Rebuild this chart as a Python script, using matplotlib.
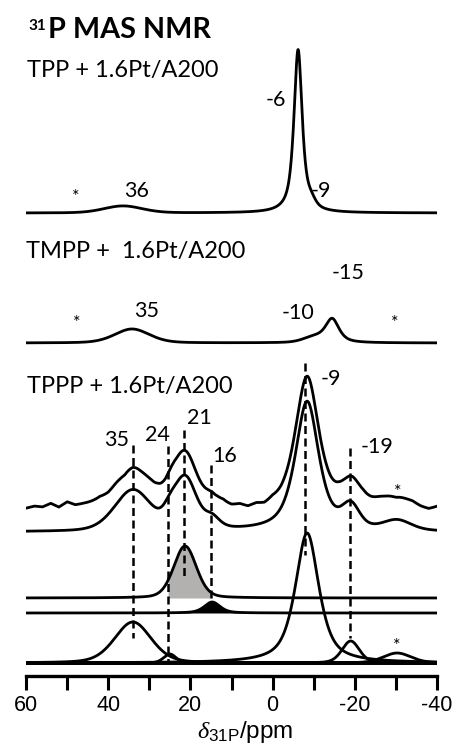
import matplotlib.pyplot as plt
import numpy as np

plt.rcParams['axes.unicode_minus'] = False
plt.rcParams['mathtext.fontset'] = 'custom'
plt.rcParams['mathtext.it'] = 'Liberation Serif:italic'
plt.rcParams['mathtext.rm'] = 'Liberation Sans'

W, H = 454, 746

# peak parameters: (centre ppm, height, fwhm ppm, lorentz fraction)
# heights are in screen pixels of the original figure
tpp_peaks = [(-6.2, 163, 2.4, 0.8), (-9.4, 6, 2.5, 0.5), (36.4, 7, 11.0, 0.2)]
tmpp_peaks = [(-14.5, 23.5, 4.0, 0.7), (-10.0, 5, 6.0, 0.3), (34.2, 14, 10.0, 0.3)]
tppp_components = [(34.0, 41, 10.5, 0.3), (25.0, 9, 3.5, 0.3), (-8.4, 130, 6.8, 0.7),
                   (-19.0, 22, 5.0, 0.3), (-30.3, 10, 8.0, 0.3)]
tppp_gray = (21.3, 52, 6.5, 0.25)
tppp_black = (14.7, 11, 4.5, 0.5)

# wiggles of the measured TPPP trace relative to the fit, every 2 ppm from 60 to -40
noise_ppm = np.arange(60, -41, -2)
noise = [-2, 0, -1, 2.5, -1.5, 3.5, 0, 0.5, 0.5, 0.5,
         -3, -3.5, -6, -3, -3, -1, 0, -2, 0, 0,
         -1, -2, -3, -4, -1, -3, -2, -5, -3, -5,
         -2, -3, -2, 0, 0, 0, -1, -1, 0, -1,
         1, 3, 2, 2, 0, -3, -2, -1, -3, -4,
         -1]

# assignment markers: ppm, top and bottom (figure pixels)
guide_ppm = [34.0, 25.45, 21.56, 15.0, -7.9, -18.8]
guide_top = [445, 446, 430, 465, 363, 448]
guide_bot = [638, 663, 578, 598, 555, 638]

major_ticks = [60, 40, 20, 0, -20, -40]
major_labels = ['60', '40', '20', '0', '-20', '-40']
minor_ticks = [50, 30, 10, -10, -30]

samples = ['TPP + 1.6Pt/A200', 'TMPP +  1.6Pt/A200', 'TPPP + 1.6Pt/A200']


def pv(x, c, h, w, eta):
    d = (x - c) / (w / 2)
    return h * (eta / (1 + d ** 2) + (1 - eta) * np.exp(-np.log(2) * d ** 2))


def spectrum(x, peaks):
    return sum(pv(x, *p) for p in peaks)


x = np.linspace(60, -40, 3000)

# baselines in pixel units above the axis line
base_tpp, base_tmpp = 463, 333
base_exp, base_sum = 169, 144
base_gray, base_black, base_comp = 78, 63, 13

fig = plt.figure(figsize=(W / 100, H / 100), dpi=100)
ax = fig.add_axes([26 / W, 70 / H, 411 / W, 676 / H])
ax.set_xlim(60, -40)
ax.set_ylim(0, 676)

lw = 2.0
ax.plot(x, base_tpp + spectrum(x, tpp_peaks), color='black', lw=lw)
ax.plot(x, base_tmpp + spectrum(x, tmpp_peaks), color='black', lw=lw)

fit = spectrum(x, tppp_components) + pv(x, *tppp_gray) + pv(x, *tppp_black)
wig = np.interp(x, noise_ppm[::-1], np.array(noise)[::-1])
ax.plot(x, base_exp + fit + wig, color='black', lw=lw)
ax.plot(x, base_sum + fit, color='black', lw=lw)

gray = pv(x, *tppp_gray)
mask = (x <= 25.45) & (x >= 15.0)
ax.fill_between(x, base_gray, base_gray + gray, where=mask, color='#b3b0b0', lw=0)
ax.plot(x, base_gray + gray, color='black', lw=lw)

black = pv(x, *tppp_black)
ax.fill_between(x, base_black, base_black + black, color='black', lw=0)
ax.plot(x, base_black + black, color='black', lw=lw)

ax.axhline(base_comp, color='black', lw=2.8)
for p in tppp_components:
    ax.plot(x, base_comp + pv(x, *p), color='black', lw=lw)

for p, t, b in zip(guide_ppm, guide_top, guide_bot):
    ax.plot([p, p], [676 - t, 676 - b], color='black', lw=1.8,
            ls=(0, (3.2, 1.8)))

for s in ['left', 'right', 'top']:
    ax.spines[s].set_visible(False)
ax.spines['bottom'].set_linewidth(2.4)
ax.set_yticks([])
ax.set_xticks(major_ticks)
ax.set_xticklabels(major_labels, family='Liberation Sans', fontsize=15.5)
ax.set_xticks(minor_ticks, minor=True)
ax.tick_params(axis='x', which='major', length=10, width=2.2, pad=4)
ax.tick_params(axis='x', which='minor', length=10, width=2.2)


def pxt(xp, yp, s, **kw):
    fig.text(xp / W, 1 - yp / H, s, va='baseline', **kw)


lab = dict(family='Lato', fontsize=15.5, ha='center')
pxt(28, 30, '31', family='Lato', fontsize=11, fontweight='bold')
pxt(48, 38, 'P MAS NMR', family='Lato', fontsize=20.7, fontweight='bold')
pxt(27, 77, samples[0], family='Lato', fontsize=17)
pxt(26, 258, samples[1], family='Lato', fontsize=17)
pxt(27, 393, samples[2], family='Lato', fontsize=17)

for s, xp, yp in [('36', 137, 197), ('-6', 276, 106), ('-9', 321, 197),
                  ('35', 147, 317), ('-10', 298, 319), ('-15', 348, 279),
                  ('35', 117, 446), ('24', 157, 441), ('21', 199, 424),
                  ('16', 225, 462), ('-9', 331, 385), ('-19', 377, 453)]:
    pxt(xp, yp, s, **lab)

for xp, yp in [(76, 193), (77, 319), (395, 319), (398, 488), (397, 642)]:
    pxt(xp, yp + 9, '*', family='Lato', fontsize=13, ha='center')

pxt(245, 738, r'$\delta_{\mathrm{31P}}$/ppm', family='Liberation Sans',
    fontsize=17.5, ha='center')

fig.savefig('out.png', dpi=100)
